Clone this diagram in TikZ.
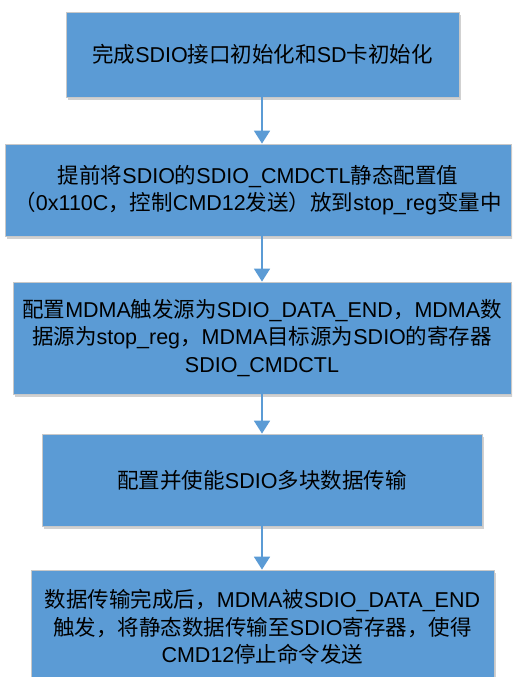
\documentclass[tikz,border=0pt]{standalone}
\usepackage{fontspec}
\setmainfont{Liberation Sans}
\newfontfamily\cjk{Noto Sans CJK SC}
\usetikzlibrary{shadows,arrows.meta}
\definecolor{boxblue}{HTML}{5B9BD5}
\definecolor{boxline}{HTML}{C8C8C8}
\tikzset{
  stepbox/.style={rectangle, fill=boxblue, draw=boxline, line width=0.8pt,
    align=center, inner sep=0pt, text=black,
    font=\fontsize{21.5}{27.5}\selectfont,
    drop shadow={shadow xshift=2pt, shadow yshift=-3pt, opacity=0.18, fill=black}},
  flow/.style={draw=boxblue, line width=1.8pt,
    -{Triangle[length=13pt,width=16pt]}}
}
\begin{document}
\begin{tikzpicture}[x=1pt,y=-1pt]
\useasboundingbox (0,0) rectangle (512,677);
\begin{scope}
\clip (0,0) rectangle (512,677);
\node[stepbox, minimum width=393pt, minimum height=85pt] (b1) at (262.5,54.5)
  {{\cjk 完成}SDIO{\cjk 接口初始化和}SD{\cjk 卡初始化}};
\node[stepbox, minimum width=506pt, minimum height=92pt] (b2) at (258,190)
  {{\cjk 提前将}SDIO{\cjk 的}SDIO\_CMDCTL{\cjk 静态配置值}\\
   {\cjk （}0x110C{\cjk ，控制}CMD12{\cjk 发送）放到}stop\_reg{\cjk 变量中}};
\node[stepbox, minimum width=498pt, minimum height=112pt] (b3) at (262,338)
  {{\cjk 配置}MDMA{\cjk 触发源为}SDIO\_DATA\_END{\cjk ，}MDMA{\cjk 数}\\
   {\cjk 据源为}stop\_reg{\cjk ，}MDMA{\cjk 目标源为}SDIO{\cjk 的寄存器}\\
   SDIO\_CMDCTL};
\node[stepbox, minimum width=440pt, minimum height=92pt] (b4) at (262,480)
  {{\cjk 配置并使能}SDIO{\cjk 多块数据传输}};
\node[stepbox, minimum width=463pt, minimum height=114pt] (b5) at (262.5,627)
  {{\cjk 数据传输完成后，}MDMA{\cjk 被}SDIO\_DATA\_END\\
   {\cjk 触发，将静态数据传输至}SDIO{\cjk 寄存器，使得}\\
   CMD12{\cjk 停止命令发送}};
\end{scope}
\coordinate (a1) at (262,97);
\coordinate (a2) at (262,236);
\draw[flow] (a1) -- (a1 |- b2.north);
\draw[flow] (a2) -- (a2 |- b3.north);
\draw[flow] (b3.south -| a1) -- (a1 |- b4.north);
\draw[flow] (b4.south -| a1) -- (a1 |- b5.north);
\end{tikzpicture}
\end{document}
